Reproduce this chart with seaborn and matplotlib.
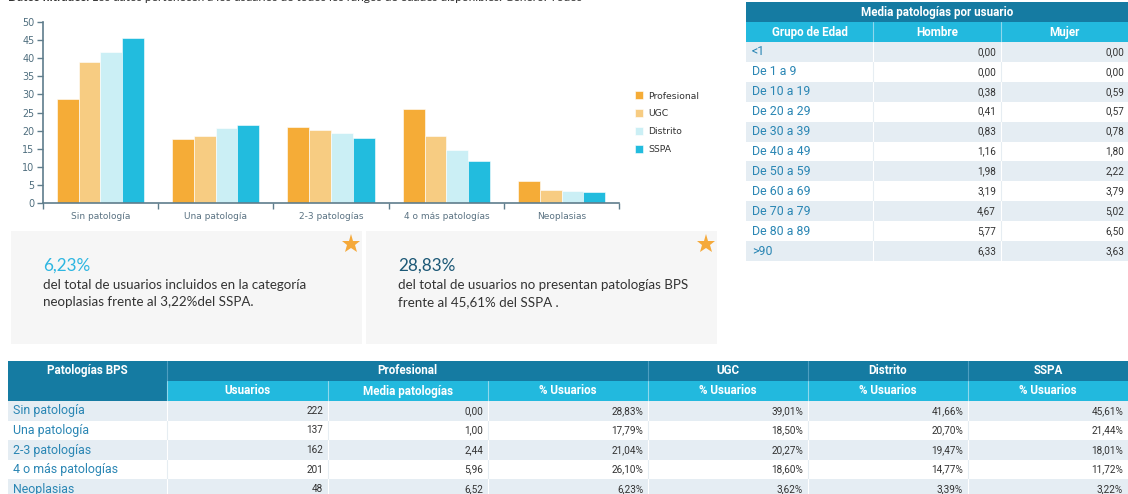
import numpy as np
import pandas as pd
import matplotlib
matplotlib.use("Agg")
import matplotlib.pyplot as plt
import seaborn as sns
from matplotlib.patches import Rectangle
from matplotlib.lines import Line2D

# ---------------- data ----------------
categories = ['Sin patología', 'Una patología', '2-3 patologías', '4 o más patologías', 'Neoplasias']
series_names = ['Profesional', 'UGC', 'Distrito', 'SSPA']
pct_profesional = [28.83, 17.79, 21.04, 26.10, 6.23]
pct_ugc = [39.01, 18.50, 20.27, 18.60, 3.62]
pct_distrito = [41.66, 20.70, 19.47, 14.77, 3.39]
pct_sspa = [45.61, 21.44, 18.01, 11.72, 3.22]
y_ticks = [0, 5, 10, 15, 20, 25, 30, 35, 40, 45, 50]

usuarios = [222, 137, 162, 201, 48]
media_patologias = [0.00, 1.00, 2.44, 5.96, 6.52]

age_groups = ['<1', 'De 1 a 9', 'De 10 a 19', 'De 20 a 29', 'De 30 a 39', 'De 40 a 49',
              'De 50 a 59', 'De 60 a 69', 'De 70 a 79', 'De 80 a 89', '>90']
media_hombre = [0.00, 0.00, 0.38, 0.41, 0.83, 1.16, 1.98, 3.19, 4.67, 5.77, 6.33]
media_mujer = [0.00, 0.00, 0.59, 0.57, 0.78, 1.80, 2.22, 3.79, 5.02, 6.50, 3.63]

top_note_bold = 'Datos filtrados:'
top_note = ' Los datos pertenecen a los usuarios de todos los rangos de edades disponibles. Género: Todos'
card1_value = '6,23%'
card1_text = ['del total de usuarios incluidos en la categoría', 'neoplasias frente al 3,22%del SSPA.']
card2_value = '28,83%'
card2_text = ['del total de usuarios no presentan patologías BPS', 'frente al 45,61% del SSPA .']

# ---------------- style ----------------
colors = ['#F5AC37', '#F7CC82', '#CBEFF5', '#22BCDE']
axis_col = '#5F7D8C'
dark_hdr = '#157BA2'
light_hdr = '#22B9DE'
shade = '#E5EDF3'
label_blue = '#2A86B4'
num_col = '#333333'
lab_fs = 8.9
num_fs = 7.2
hdr_fs = 8.4

W, H = 1128, 494
sns.set_theme(style='white')
plt.rcParams['font.family'] = ['DejaVu Sans']
fig = plt.figure(figsize=(W / 100, H / 100), dpi=100)


def fx(x):
    return x / W


def fy(y):
    return 1 - y / H


def rect(x0, y0, x1, y1, color, ec='none', lw=0):
    fig.patches.append(Rectangle((fx(x0), fy(y1)), (x1 - x0) / W, (y1 - y0) / H,
                                 transform=fig.transFigure, facecolor=color,
                                 edgecolor=ec, linewidth=lw, zorder=0))


def vline(x, y0, y1, color, lw=0.8):
    fig.add_artist(Line2D([fx(x), fx(x)], [fy(y0), fy(y1)], transform=fig.transFigure,
                          color=color, linewidth=lw))


def txt(x, y, s, **kw):
    fig.text(fx(x), fy(y), s, **kw)


def fmt(v, pct=False):
    s = f'{v:.2f}'.replace('.', ',')
    return s + '%' if pct else s


# ---------------- top note (clipped at the top edge, as in the source) ----------------
t1 = fig.text(fx(8), fy(0.8), top_note_bold, family='Lato', fontsize=8.6, fontweight='bold',
              color='#333333', va='baseline', ha='left')
fig.canvas.draw()
bb = t1.get_window_extent()
fig.text(bb.x1 / W, fy(0.8), top_note, family='Lato', fontsize=8.6, color='#333333',
         va='baseline', ha='left')

# ---------------- bar chart ----------------
ax = fig.add_axes([fx(42.7), fy(203.3), (619.3 - 42.7) / W, (203.3 - 21.7) / H])
df = pd.DataFrame({
    'Categoria': categories * len(series_names),
    'Serie': np.repeat(series_names, len(categories)),
    'Valor': pct_profesional + pct_ugc + pct_distrito + pct_sspa,
})
sns.barplot(data=df, x='Categoria', y='Valor', hue='Serie', order=categories,
            hue_order=series_names, palette=colors, saturation=1, width=0.755,
            edgecolor='white', linewidth=0.4, ax=ax, errorbar=None)
ax.set_xlim(-0.5, len(categories) - 0.5)
ax.set_ylim(0, 50)
ax.set_yticks(y_ticks)
ax.set_xlabel('')
ax.set_ylabel('')
for s in ['top', 'right']:
    ax.spines[s].set_visible(False)
for s in ['left', 'bottom']:
    ax.spines[s].set_color(axis_col)
    ax.spines[s].set_linewidth(1.2)
ax.set_xticks(np.arange(-0.5, len(categories), 1.0), minor=True)
ax.tick_params(axis='y', left=True, length=4, width=1, color=axis_col,
               labelsize=6.9, labelcolor='#4F6E7E', pad=2)
ax.tick_params(axis='x', which='major', bottom=False, length=0, labelsize=6.5,
               labelcolor='#5A7282', pad=6)
ax.tick_params(axis='x', which='minor', bottom=True, length=4, width=1, color=axis_col)
ax.grid(False)
handles, labels = ax.get_legend_handles_labels()
ax.legend(handles, labels, loc='upper left', bbox_to_anchor=(fx(635), fy(91.5)),
          bbox_transform=fig.transFigure, frameon=False, handlelength=0.9,
          handleheight=0.9, handletextpad=0.55, labelspacing=0.95, fontsize=6.7,
          borderaxespad=0, borderpad=0)
for t in ax.get_legend().get_texts():
    t.set_color('#333333')

# ---------------- cards ----------------
for (x0, x1, val, lines, vcol) in [(11, 362, card1_value, card1_text, '#2DB6E1'),
                                   (366, 717, card2_value, card2_text, '#1C5876')]:
    rect(x0, 231, x1, 344, '#F6F6F6')
    fig.add_artist(Line2D([fx(x1 - 11)], [fy(244)], transform=fig.transFigure, marker='*',
                          markersize=14, color='#F5A93A', markeredgewidth=0))
    tx = x0 + 32
    txt(tx, 266, val, family='Lato', fontsize=12.3, color=vcol, va='center', ha='left')
    for i, line in enumerate(lines):
        txt(tx, 285 + 17 * i, line, family='Lato', fontsize=9.6, color='#333333',
            va='center', ha='left')

# ---------------- right table ----------------
rx = [746, 873, 1001, 1128]
rect(rx[0], 2, rx[3], 22, dark_hdr)
txt((rx[0] + rx[3]) / 2, 12.5, 'Media patologías por usuario', family='Roboto', fontsize=hdr_fs,
    fontweight='bold', color='white', ha='center', va='center')
rect(rx[0], 22, rx[3], 42, light_hdr)
for i, h in enumerate(['Grupo de Edad', 'Hombre', 'Mujer']):
    txt((rx[i] + rx[i + 1]) / 2, 32.5, h, family='Roboto', fontsize=hdr_fs, fontweight='bold',
        color='white', ha='center', va='center')
for x in rx[1:3]:
    vline(x, 22, 42, '#8FD7EC')
row_h = (261 - 42) / len(age_groups)
for i, g in enumerate(age_groups):
    y0 = 42 + i * row_h
    y1 = y0 + row_h
    if i % 2 == 0:
        rect(rx[0], y0, rx[3], y1, shade)
        sep = 'white'
    else:
        sep = '#E6EDF2'
    for x in rx[1:3]:
        vline(x, y0, y1, sep)
    yc = (y0 + y1) / 2
    txt(rx[0] + 6, yc, g, family='Roboto', fontsize=lab_fs, color=label_blue, ha='left', va='center')
    txt(rx[2] - 5, yc, fmt(media_hombre[i]), family='Roboto', fontsize=num_fs, color=num_col,
        ha='right', va='center')
    txt(rx[3] - 4, yc, fmt(media_mujer[i]), family='Roboto', fontsize=num_fs, color=num_col,
        ha='right', va='center')

# ---------------- bottom table ----------------
bx = [8, 167, 328, 488, 648, 808, 968, 1128]
rect(bx[0], 361, bx[7], 381, dark_hdr)
rect(bx[0], 381, bx[1], 401, dark_hdr)
rect(bx[1], 381, bx[7], 401, light_hdr)
txt((bx[0] + bx[1]) / 2, 370.5, 'Patologías BPS', family='Roboto', fontsize=hdr_fs,
    fontweight='bold', color='white', ha='center', va='center')
groups = [('Profesional', bx[1], bx[4]), ('UGC', bx[4], bx[5]), ('Distrito', bx[5], bx[6]),
          ('SSPA', bx[6], bx[7])]
for name, a, b in groups:
    txt((a + b) / 2, 370.5, name, family='Roboto', fontsize=hdr_fs, fontweight='bold',
        color='white', ha='center', va='center')
for x in [bx[1], bx[4], bx[5], bx[6]]:
    vline(x, 361, 381, '#4E9EC0')
vline(bx[1], 381, 401, '#8FD7EC')
subs = ['Usuarios', 'Media patologías', '% Usuarios', '% Usuarios', '% Usuarios', '% Usuarios']
for i, s in enumerate(subs):
    txt((bx[i + 1] + bx[i + 2]) / 2, 391, s, family='Roboto', fontsize=hdr_fs, fontweight='bold',
        color='white', ha='center', va='center')
for x in bx[2:7]:
    vline(x, 381, 401, '#8FD7EC')
brow = 19.6
for i, c in enumerate(categories):
    y0 = 401 + i * brow
    y1 = y0 + brow
    if i % 2 == 0:
        rect(bx[0], y0, bx[7], y1, shade)
        sep = 'white'
    else:
        sep = '#E6EDF2'
    for x in bx[1:7]:
        vline(x, y0, y1, sep)
    yc = (y0 + y1) / 2
    txt(bx[0] + 5, yc, c, family='Roboto', fontsize=lab_fs, color=label_blue, ha='left', va='center')
    vals = [str(usuarios[i]), fmt(media_patologias[i]), fmt(pct_profesional[i], True),
            fmt(pct_ugc[i], True), fmt(pct_distrito[i], True), fmt(pct_sspa[i], True)]
    for j, v in enumerate(vals):
        txt(bx[j + 2] - 5, yc, v, family='Roboto', fontsize=num_fs, color=num_col,
            ha='right', va='center')

fig.savefig('out.png', dpi=100, facecolor='white')
